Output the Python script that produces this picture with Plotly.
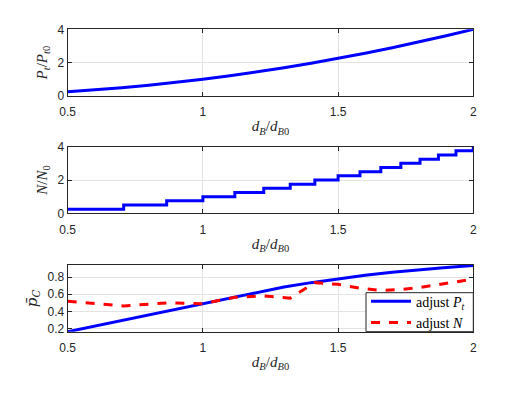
import plotly.graph_objects as go
from plotly.subplots import make_subplots

# ---- data ----
dB_ratio = [0.5, 0.6, 0.7, 0.8, 0.9, 1.0, 1.1, 1.2, 1.3, 1.4, 1.5, 1.6, 1.7, 1.8, 1.9, 2.0]
Pt_ratio = [0.25, 0.36, 0.49, 0.64, 0.81, 1.0, 1.21, 1.44, 1.69, 1.96, 2.25, 2.56, 2.89, 3.24, 3.61, 4.0]

dB_steps = [0.5, 0.707, 0.866, 1.0, 1.118, 1.225, 1.323, 1.414, 1.5, 1.581, 1.658, 1.732, 1.803, 1.871, 1.936, 2.0]
N_ratio = [0.25, 0.5, 0.75, 1.0, 1.25, 1.5, 1.75, 2.0, 2.25, 2.5, 2.75, 3.0, 3.25, 3.5, 3.75, 4.0]

pc_adjust_Pt = [0.165, 0.23, 0.295, 0.36, 0.43, 0.495, 0.56, 0.625, 0.685, 0.735, 0.78, 0.82, 0.855, 0.885, 0.91, 0.935]
pc_adjust_N = [0.52, 0.465, 0.50, 0.49, 0.565, 0.58, 0.555, 0.735, 0.715, 0.67, 0.645, 0.655, 0.68, 0.71, 0.74, 0.775]

x_ticks = [0.5, 1, 1.5, 2]
x_ticklabels = ["0.5", "1", "1.5", "2"]

serif = "Liberation Serif"
sans = "Liberation Sans"
axcol = "#262626"
W, H = 525, 394

fig = make_subplots(rows=3, cols=1)

fig.add_trace(go.Scatter(x=dB_ratio, y=Pt_ratio, mode="lines",
                         line=dict(color="#0000ff", width=3), showlegend=False), row=1, col=1)
fig.add_trace(go.Scatter(x=dB_steps, y=N_ratio, mode="lines", line_shape="hv",
                         line=dict(color="#0000ff", width=3), showlegend=False), row=2, col=1)
fig.add_trace(go.Scatter(x=dB_ratio, y=pc_adjust_Pt, mode="lines",
                         line=dict(color="#0000ff", width=3),
                         name="adjust <i>P</i><sub><i>t</i></sub>"), row=3, col=1)
fig.add_trace(go.Scatter(x=dB_steps, y=pc_adjust_N, mode="lines",
                         line=dict(color="#ff0000", width=3, dash="dash"),
                         name="adjust <i>N</i>"), row=3, col=1)

xdom = [67.7 / W, 473.3 / W]
ydoms = [
    [(H - 96) / H, (H - 29.3) / H],
    [(H - 213.3) / H, (H - 146.7) / H],
    [(H - 331.7) / H, (H - 265) / H],
]
yranges = [[0, 4], [0, 4], [0.165, 0.94]]
ytickvals = [[0, 2, 4], [0, 2, 4], [0.2, 0.4, 0.6, 0.8]]
ylabels = [
    "<i>P</i><sub><i>t</i></sub>/<i>P</i><sub><i>t</i>0</sub>",
    "<i>N</i>/<i>N</i><sub>0</sub>",
    "<i>p\u0304</i><sub><i>C</i></sub>",
]
yfonts = [serif, serif, "DejaVu Serif"]
xlabel = "<i>d</i><sub><i>B</i></sub>/<i>d</i><sub><i>B</i>0</sub>"

common = dict(showline=True, linecolor=axcol, linewidth=1, mirror="allticks",
              ticks="inside", ticklen=4, tickcolor=axcol, showgrid=True,
              gridcolor="#e3e3e3", gridwidth=1, zeroline=False, automargin=False,
              tickfont=dict(family=sans, size=12, color=axcol))

for i in range(3):
    xa = "xaxis" if i == 0 else f"xaxis{i+1}"
    ya = "yaxis" if i == 0 else f"yaxis{i+1}"
    fig.layout[xa].update(domain=xdom, range=[0.5, 2], tickvals=x_ticks, ticktext=x_ticklabels,
                          ticklabelstandoff=5,
                          title=dict(text=xlabel, font=dict(family=serif, size=15, color=axcol), standoff=2),
                          **common)
    fig.layout[ya].update(domain=ydoms[i], range=yranges[i], tickvals=ytickvals[i],
                          title=dict(text=ylabels[i], font=dict(family=yfonts[i], size=15, color=axcol), standoff=6),
                          **common)

# legend box (drawn as a shape so it can match the compact reference box)
box_l, box_r, box_t, box_b = 366 / W, 473.3 / W, (H - 292.7) / H, (H - 331.7) / H
fig.add_shape(type="rect", xref="paper", yref="paper", x0=box_l, x1=box_r, y0=box_b, y1=box_t,
              fillcolor="white", line=dict(color=axcol, width=1), layer="above")

fig.update_layout(
    width=W, height=H,
    margin=dict(l=0, r=0, t=0, b=0),
    paper_bgcolor="white", plot_bgcolor="white",
    legend=dict(x=box_l, y=(box_t + box_b) / 2, xanchor="left", yanchor="middle",
                bgcolor="rgba(0,0,0,0)", borderwidth=0,
                font=dict(family=serif, size=14, color="black"),
                tracegroupgap=0, itemwidth=40),
)

fig.write_html("out.html", config={"displayModeBar": False},
               post_script="document.body.style.margin='0';")
